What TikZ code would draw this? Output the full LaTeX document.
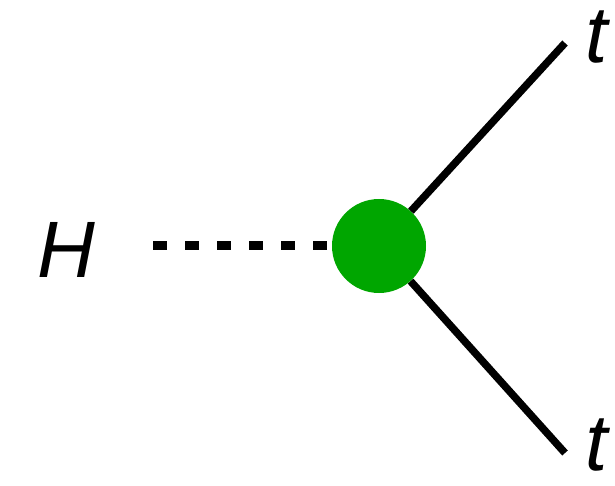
\documentclass[tikz,border=0pt]{standalone}
\usepackage{fontspec}
\setmainfont{Liberation Sans}
\usepackage{tikz}
\usetikzlibrary{positioning}
\definecolor{vertexgreen}{RGB}{0,166,0}

\begin{document}
\begin{tikzpicture}[x=1pt, y=1pt,
    every node/.style={font=\fontsize{80}{80}\selectfont\itshape, inner sep=0pt},
    blob/.style={circle, fill=vertexgreen, minimum size=94pt, inner sep=0pt},
    scalar/.style={line width=9pt, dash pattern=on 14pt off 18pt},
    fermion/.style={line width=7.5pt}]
    \useasboundingbox (0,0) rectangle (615,485);

    % vertex and the three legs
    \node[blob] (vertex) at (379,239) {};
    \node (higgs) at (66,235) {H};
    \node (topq) at (597,448) {t};
    \node (antitop) at (597,40) {t};

    \coordinate (hend) at (153,239);
    \coordinate (topend) at (565,442);
    \coordinate (botend) at (565,32);

    \draw[scalar] (hend) -- (vertex);
    \draw[fermion] (vertex) -- (topend);
    \draw[fermion] (vertex) -- (botend);
\end{tikzpicture}
\end{document}
